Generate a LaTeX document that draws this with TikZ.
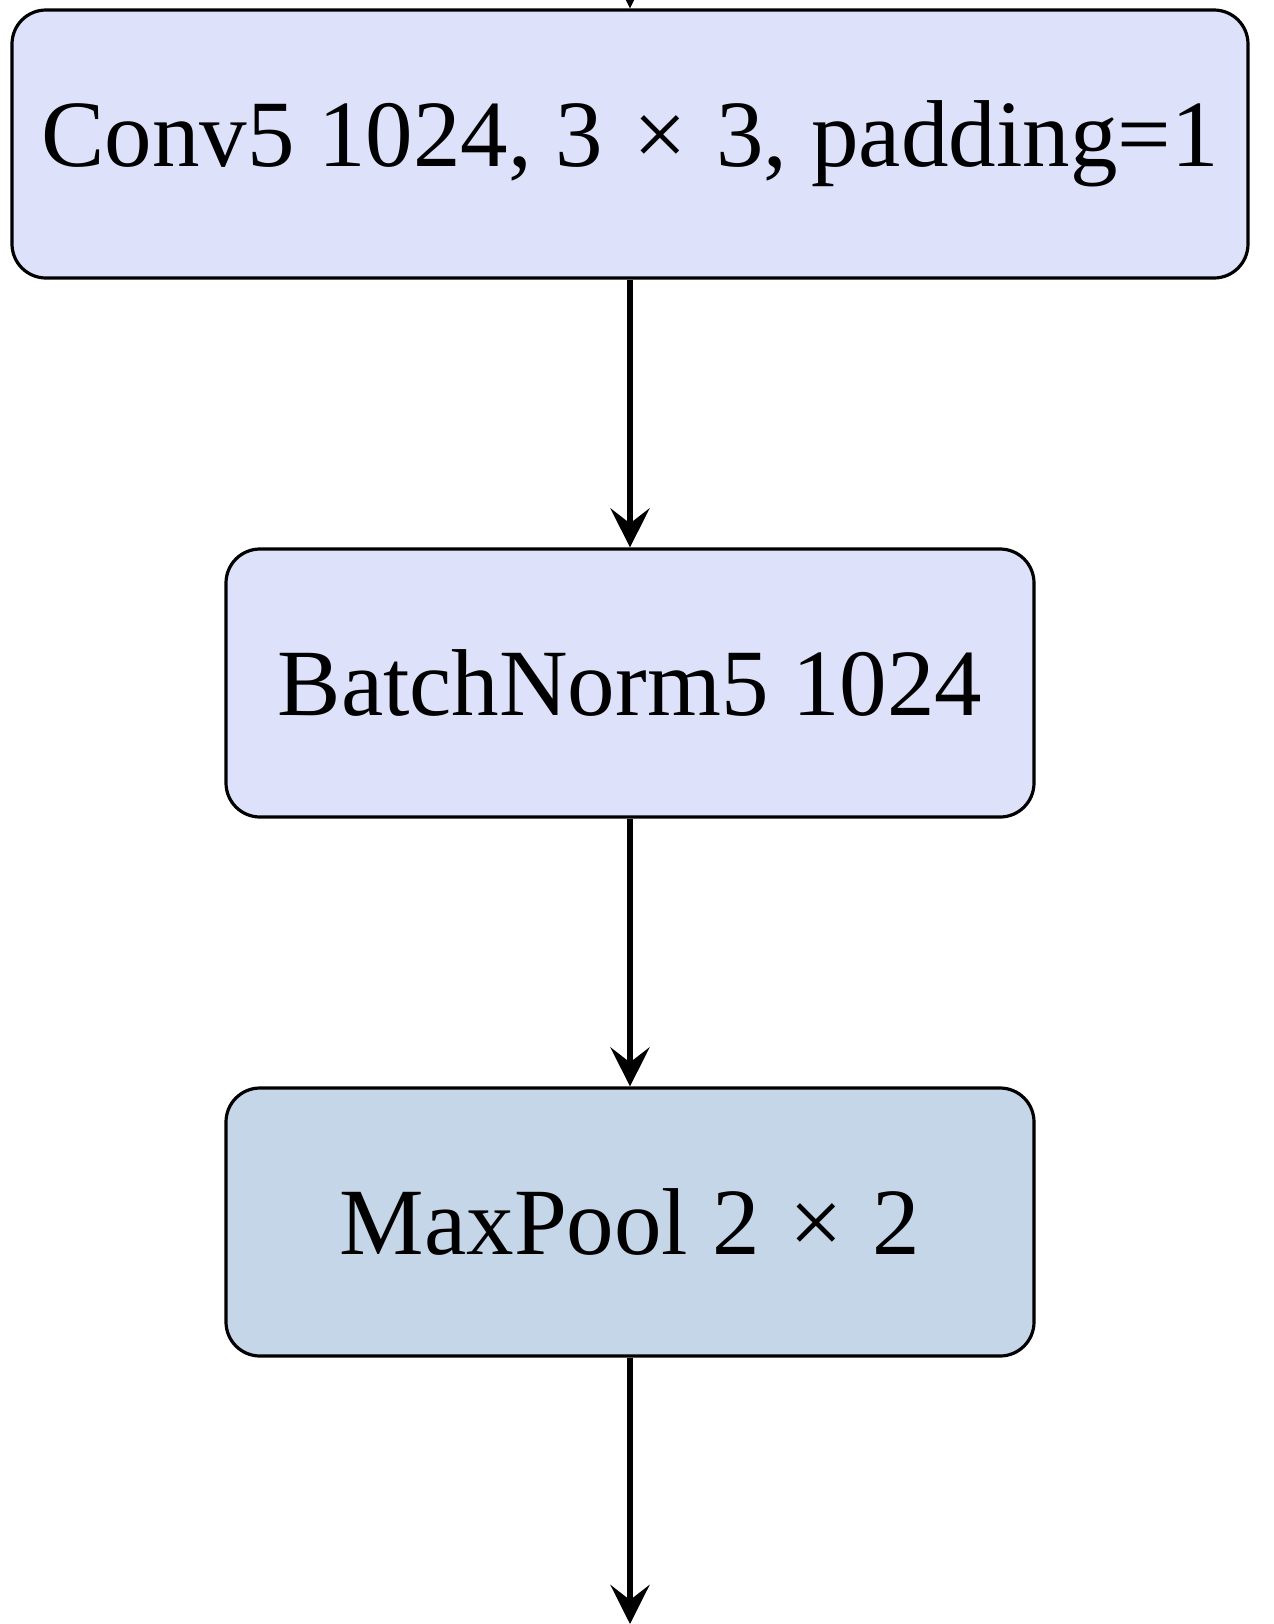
\documentclass[tikz,border=0pt]{standalone}
\usepackage{fontspec}
\setmainfont{Liberation Serif}
\usetikzlibrary{arrows.meta}
\definecolor{convfill}{RGB}{222,225,250}
\definecolor{poolfill}{RGB}{198,214,233}
% multiplication sign with slightly wider spacing
\newcommand{\bytimes}{\kern3pt×\kern3pt}
\tikzset{
  layer/.style={draw=black, line width=1.6pt, rounded corners=17pt, inner sep=0pt,
    minimum height=134pt, font=\fontsize{47.5}{57}\selectfont},
  flow/.style={line width=3pt, -{Stealth[length=19.5pt, width=19.5pt, inset=7.5pt]}}
}
\begin{document}
\begin{tikzpicture}[x=0.5pt, y=-0.5pt]
  \clip (0,0) rectangle (1274,1624);
  \node[layer, fill=convfill, minimum width=618pt] (conv) at (630,144) {Conv5 1024, 3 \bytimes{} 3, padding=1};
  \node[layer, fill=convfill, minimum width=404pt] (bn) at (630,683) {BatchNorm5 1024};
  \node[layer, fill=poolfill, minimum width=404pt] (pool) at (630,1222) {MaxPool 2 \bytimes{} 2};
  \coordinate (in) at (630,-60);
  \coordinate (out) at (630,1624);
  \draw[flow] (in) -- (conv.north);
  \draw[flow] (conv.south) -- (bn.north);
  \draw[flow] (bn.south) -- (pool.north);
  \draw[flow] (pool.south) -- (out);
\end{tikzpicture}
\end{document}
